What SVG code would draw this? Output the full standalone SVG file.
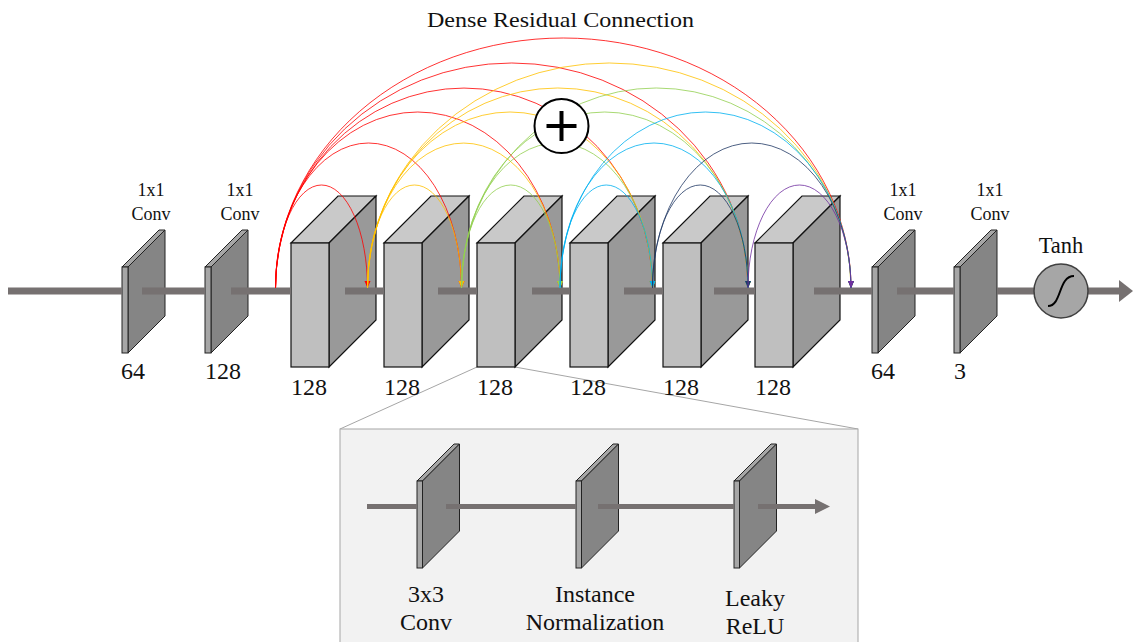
<svg xmlns="http://www.w3.org/2000/svg" width="1133" height="642" viewBox="0 0 1133 642">
<style>
  text { font-family: "Liberation Serif", "Times New Roman", serif; fill: #111; text-anchor: middle; }
  .t18 { font-size: 18px; }
  .t24 { font-size: 24px; }
  .pfront { fill: #a6a6a6; stroke: #222; stroke-width: 1; }
  .ptop { fill: #a6a6a6; stroke: #222; stroke-width: 1; }
  .pside { fill: #858585; stroke: #222; stroke-width: 1; }
  .bfront { fill: #bfbfbf; stroke: #111; stroke-width: 1.2; }
  .btop { fill: #c9c9c9; stroke: #111; stroke-width: 1.2; }
  .bside { fill: #999999; stroke: #111; stroke-width: 1.2; }
  .main { stroke: #767171; stroke-width: 7; fill: none; }
  .sub { stroke: #767171; stroke-width: 5; fill: none; }
  .zoomline { stroke: #a6a6a6; stroke-width: 1; fill: none; }
  .arc { fill: none; stroke-width: 1; stroke-opacity: 0.8; }
  .r { stroke: #ff0000; } .y { stroke: #ffc000; } .g { stroke: #92d050; }
  .b { stroke: #00b0f0; } .n { stroke: #203864; } .p { stroke: #7030a0; }
</style>
<defs>
  <marker id="mr" markerUnits="userSpaceOnUse" markerWidth="8" markerHeight="8" refX="7" refY="3.5" orient="auto"><path d="M0,0.5 L7,3.5 L0,6.5 z" fill="#ff0000"/></marker>
  <marker id="my" markerUnits="userSpaceOnUse" markerWidth="8" markerHeight="8" refX="7" refY="3.5" orient="auto"><path d="M0,0.5 L7,3.5 L0,6.5 z" fill="#ffc000"/></marker>
  <marker id="mg" markerUnits="userSpaceOnUse" markerWidth="8" markerHeight="8" refX="7" refY="3.5" orient="auto"><path d="M0,0.5 L7,3.5 L0,6.5 z" fill="#92d050"/></marker>
  <marker id="mb" markerUnits="userSpaceOnUse" markerWidth="8" markerHeight="8" refX="7" refY="3.5" orient="auto"><path d="M0,0.5 L7,3.5 L0,6.5 z" fill="#00b0f0"/></marker>
  <marker id="mn" markerUnits="userSpaceOnUse" markerWidth="8" markerHeight="8" refX="7" refY="3.5" orient="auto"><path d="M0,0.5 L7,3.5 L0,6.5 z" fill="#203864"/></marker>
  <marker id="mp" markerUnits="userSpaceOnUse" markerWidth="8" markerHeight="8" refX="7" refY="3.5" orient="auto"><path d="M0,0.5 L7,3.5 L0,6.5 z" fill="#7030a0"/></marker>
</defs>

<rect width="1133" height="642" fill="#ffffff"/>

<text x="560.5" y="26.5" class="t24" style="font-size:22px" textLength="267" lengthAdjust="spacingAndGlyphs">Dense Residual Connection</text>

<!-- Zoom inset -->
<g id="inset">
  <line class="zoomline" x1="477" y1="367" x2="340" y2="429"/>
  <line class="zoomline" x1="515" y1="367" x2="858" y2="429"/>
  <rect x="340" y="429" width="518" height="220" fill="#f2f2f2" stroke="#a6a6a6" stroke-width="1"/>
  <g id="inset-conv">
    <polygon class="ptop" points="417,481 454,444 459.5,444 422.5,481"/>
    <polygon class="pside" points="422.5,481 459.5,444 459.5,531 422.5,568"/>
    <rect class="pfront" x="417" y="481" width="5.5" height="87"/>
    <text x="426" y="602" class="t24">3x3</text>
    <text x="426" y="630" class="t24">Conv</text>
  </g>
  <g id="inset-norm">
    <polygon class="ptop" points="576,481 613,444 618.5,444 581.5,481"/>
    <polygon class="pside" points="581.5,481 618.5,444 618.5,531 581.5,568"/>
    <rect class="pfront" x="576" y="481" width="5.5" height="87"/>
    <text x="595" y="602" class="t24">Instance</text>
    <text x="595" y="630" class="t24">Normalization</text>
  </g>
  <g id="inset-relu">
    <polygon class="ptop" points="734,481 771,444 776.5,444 739.5,481"/>
    <polygon class="pside" points="739.5,481 776.5,444 776.5,531 739.5,568"/>
    <rect class="pfront" x="734" y="481" width="5.5" height="87"/>
    <text x="755" y="606" class="t24">Leaky</text>
    <text x="755" y="634" class="t24">ReLU</text>
  </g>
  <g id="inset-connectors">
    <line class="sub" x1="367" y1="506.5" x2="417" y2="506.5"/>
    <line class="sub" x1="446" y1="506.5" x2="576" y2="506.5"/>
    <line class="sub" x1="598" y1="506.5" x2="734" y2="506.5"/>
    <line class="sub" x1="758" y1="506.5" x2="816" y2="506.5"/>
    <polygon points="815,499 830,506.5 815,514" fill="#767171"/>
  </g>
</g>

<!-- Thin 1x1 conv plates -->
<g id="conv1">
  <polygon class="ptop" points="122,267 159,230 165,230 128,267"/>
  <polygon class="pside" points="128,267 165,230 165,316 128,353"/>
  <rect class="pfront" x="122" y="267" width="6" height="86"/>
  <text x="151" y="196" class="t18">1x1</text>
  <text x="151" y="220" class="t18">Conv</text>
  <text x="133" y="379" class="t24">64</text>
</g>
<g id="conv2">
  <polygon class="ptop" points="205,267 242,230 248,230 211,267"/>
  <polygon class="pside" points="211,267 248,230 248,316 211,353"/>
  <rect class="pfront" x="205" y="267" width="6" height="86"/>
  <text x="240" y="196" class="t18">1x1</text>
  <text x="240" y="220" class="t18">Conv</text>
  <text x="223" y="379" class="t24">128</text>
</g>

<!-- Residual blocks -->
<g id="block1">
  <polygon class="btop" points="291,243 338,196 376,196 329,243"/>
  <polygon class="bside" points="329,243 376,196 376,320 329,367"/>
  <rect class="bfront" x="291" y="243" width="38" height="124"/>
  <text x="309" y="395" class="t24">128</text>
</g>
<g id="block2">
  <polygon class="btop" points="384,243 431,196 469,196 422,243"/>
  <polygon class="bside" points="422,243 469,196 469,320 422,367"/>
  <rect class="bfront" x="384" y="243" width="38" height="124"/>
  <text x="402" y="395" class="t24">128</text>
</g>
<g id="block3">
  <polygon class="btop" points="477,243 524,196 562,196 515,243"/>
  <polygon class="bside" points="515,243 562,196 562,320 515,367"/>
  <rect class="bfront" x="477" y="243" width="38" height="124"/>
  <text x="495" y="395" class="t24">128</text>
</g>
<g id="block4">
  <polygon class="btop" points="570,243 617,196 655,196 608,243"/>
  <polygon class="bside" points="608,243 655,196 655,320 608,367"/>
  <rect class="bfront" x="570" y="243" width="38" height="124"/>
  <text x="588" y="395" class="t24">128</text>
</g>
<g id="block5">
  <polygon class="btop" points="663,243 710,196 748,196 701,243"/>
  <polygon class="bside" points="701,243 748,196 748,320 701,367"/>
  <rect class="bfront" x="663" y="243" width="38" height="124"/>
  <text x="681" y="395" class="t24">128</text>
</g>
<g id="block6">
  <polygon class="btop" points="755,243 802,196 840,196 793,243"/>
  <polygon class="bside" points="793,243 840,196 840,320 793,367"/>
  <rect class="bfront" x="755" y="243" width="38" height="124"/>
  <text x="773" y="395" class="t24">128</text>
</g>

<g id="conv3">
  <polygon class="ptop" points="872,267 909,230 915,230 878,267"/>
  <polygon class="pside" points="878,267 915,230 915,316 878,353"/>
  <rect class="pfront" x="872" y="267" width="6" height="86"/>
  <text x="903" y="196" class="t18">1x1</text>
  <text x="903" y="220" class="t18">Conv</text>
  <text x="883" y="379" class="t24">64</text>
</g>
<g id="conv4">
  <polygon class="ptop" points="954,267 991,230 997,230 960,267"/>
  <polygon class="pside" points="960,267 997,230 997,316 960,353"/>
  <rect class="pfront" x="954" y="267" width="6" height="86"/>
  <text x="990" y="196" class="t18">1x1</text>
  <text x="990" y="220" class="t18">Conv</text>
  <text x="960" y="379" class="t24">3</text>
</g>

<!-- Connectors -->
<g id="connectors">
  <line class="main" x1="8" y1="291" x2="122" y2="291"/>
  <line class="main" x1="142" y1="291" x2="205" y2="291"/>
  <line class="main" x1="231" y1="291" x2="291" y2="291"/>
  <line class="main" x1="345" y1="291" x2="384" y2="291"/>
  <line class="main" x1="438" y1="291" x2="477" y2="291"/>
  <line class="main" x1="532" y1="291" x2="570" y2="291"/>
  <line class="main" x1="624" y1="291" x2="663" y2="291"/>
  <line class="main" x1="714" y1="291" x2="755" y2="291"/>
  <line class="main" x1="814" y1="291" x2="872" y2="291"/>
  <line class="main" x1="897" y1="291" x2="954" y2="291"/>
  <line class="main" x1="997" y1="291" x2="1121" y2="291"/>
  <polygon points="1119,280 1133,291 1119,302" fill="#767171"/>

  <!-- dense residual arcs -->
  <path class="arc r" marker-end="url(#mr)" d="M275.5,288 A46,103 0 0 1 367.5,288"/>
  <path class="arc r" marker-end="url(#mr)" d="M275.5,288 A93,145 0 0 1 461.5,288"/>
  <path class="arc r" marker-end="url(#mr)" d="M275.5,288 A142.25,176 0 0 1 560,288"/>
  <path class="arc r" marker-end="url(#mr)" d="M275.5,288 A188.5,200 0 0 1 652.5,288"/>
  <path class="arc r" marker-end="url(#mr)" d="M275.5,288 A236.25,225 0 0 1 748,288"/>
  <path class="arc r" marker-end="url(#mr)" d="M275.5,288 A287.75,250 0 0 1 851,288"/>

  <path class="arc y" marker-end="url(#my)" d="M367.5,288 A47,103 0 0 1 461.5,288"/>
  <path class="arc y" marker-end="url(#my)" d="M367.5,288 A96.25,145 0 0 1 560,288"/>
  <path class="arc y" marker-end="url(#my)" d="M367.5,288 A142.5,176 0 0 1 652.5,288"/>
  <path class="arc y" marker-end="url(#my)" d="M367.5,288 A190.25,200 0 0 1 748,288"/>
  <path class="arc y" marker-end="url(#my)" d="M367.5,288 A241.75,225 0 0 1 851,288"/>

  <path class="arc g" marker-end="url(#mg)" d="M461.5,288 A49.25,103 0 0 1 560,288"/>
  <path class="arc g" marker-end="url(#mg)" d="M461.5,288 A95.5,145 0 0 1 652.5,288"/>
  <path class="arc g" marker-end="url(#mg)" d="M461.5,288 A143.25,176 0 0 1 748,288"/>
  <path class="arc g" marker-end="url(#mg)" d="M461.5,288 A194.75,200 0 0 1 851,288"/>

  <path class="arc b" marker-end="url(#mb)" d="M560,288 A46.25,103 0 0 1 652.5,288"/>
  <path class="arc b" marker-end="url(#mb)" d="M560,288 A94,145 0 0 1 748,288"/>
  <path class="arc b" marker-end="url(#mb)" d="M560,288 A145.5,176 0 0 1 851,288"/>

  <path class="arc n" marker-end="url(#mn)" d="M652.5,288 A47.75,103 0 0 1 748,288"/>
  <path class="arc n" marker-end="url(#mn)" d="M652.5,288 A99.25,145 0 0 1 851,288"/>

  <path class="arc p" marker-end="url(#mp)" d="M748,288 A51.5,103 0 0 1 851,288"/>
</g>

<g id="sum">
  <circle cx="561.5" cy="126" r="27" fill="#ffffff" stroke="#000" stroke-width="2"/>
  <line x1="546.5" y1="126" x2="576.5" y2="126" stroke="#000" stroke-width="4"/>
  <line x1="561.5" y1="111" x2="561.5" y2="141" stroke="#000" stroke-width="4"/>
</g>

<g id="tanh">
  <circle cx="1061" cy="291" r="27" fill="#a6a6a6" stroke="#404040" stroke-width="1.5"/>
  <path d="M1048,306 C1062,306 1058,276 1074,276" fill="none" stroke="#000" stroke-width="2"/>
  <text x="1061" y="253" class="t24" style="font-size:22.5px">Tanh</text>
</g>
</svg>
